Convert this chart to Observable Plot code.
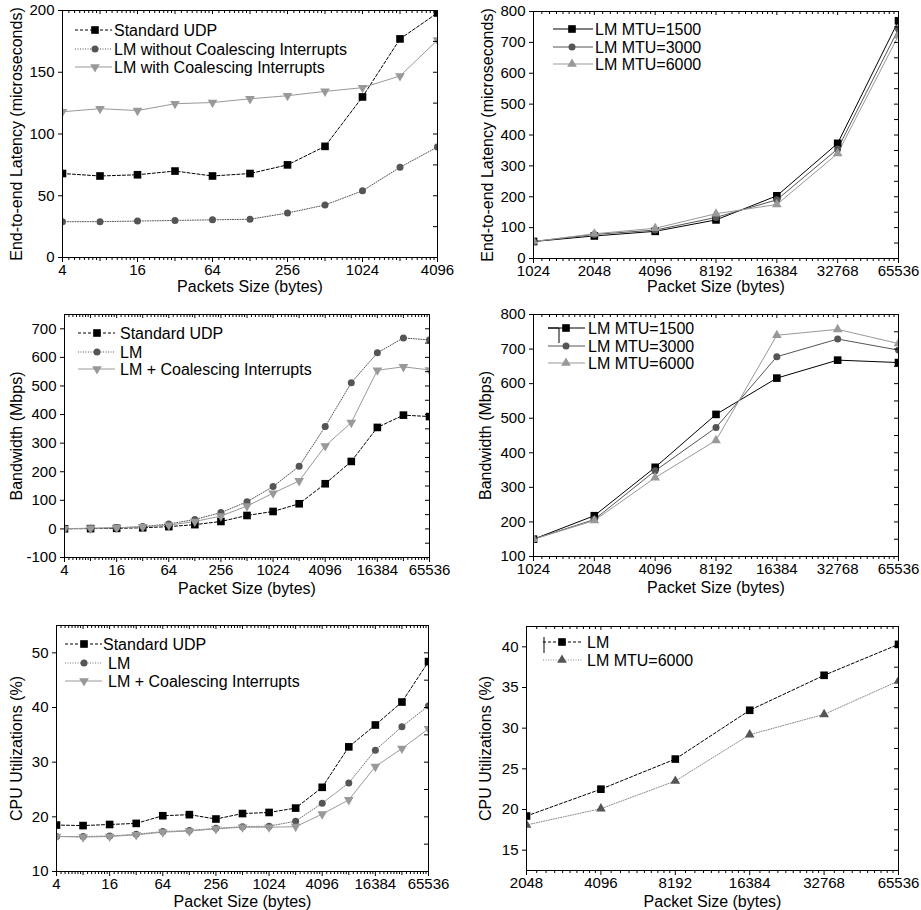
<!DOCTYPE html>
<html><head><meta charset="utf-8">
<script src="https://cdn.jsdelivr.net/npm/d3@7"></script>
<script src="https://cdn.jsdelivr.net/npm/@observablehq/plot@0.6"></script>
<style>
body{margin:0;background:#fff;}
#wrap{position:relative;width:921px;height:910px;background:#fff;font-family:"Liberation Sans",Arial,Helvetica,sans-serif;}
#wrap > svg{position:absolute;overflow:visible;}
</style></head><body><div id="wrap"></div>
<script>
// ---------------- DATA ----------------
// Panel 1: latency vs packet size (small)
const sizesLatency = [4, 8, 16, 32, 64, 128, 256, 512, 1024, 2048, 4096];
const latencyUDP = [68, 66, 67, 70, 66, 68, 75, 90, 130, 177, 198];
const latencyLM = [29, 29, 29.5, 30, 30.5, 31, 36, 42.5, 54, 73, 89.5];
const latencyLMCI = [118, 120.5, 119, 124.5, 125.5, 128.5, 131, 134.5, 137.5, 147, 176];
const latencyTicks = [4, 16, 64, 256, 1024, 4096];

// Panel 2: latency vs packet size for MTUs
const sizesMTU = [1024, 2048, 4096, 8192, 16384, 32768, 65536];
const latencyMTU1500 = [55, 73, 88, 125, 203, 373, 770];
const latencyMTU3000 = [55, 78, 92, 133, 190, 355, 743];
const latencyMTU6000 = [55, 80, 98, 145, 175, 340, 722];
const mtuTicks = [1024, 2048, 4096, 8192, 16384, 32768, 65536];

// Panel 3: bandwidth vs packet size
const sizesFull = [4, 8, 16, 32, 64, 128, 256, 512, 1024, 2048, 4096, 8192, 16384, 32768, 65536];
const bandwidthUDP = [0.5, 1, 2, 4, 8, 15, 26, 47, 61, 88, 158, 236, 355, 398, 393];
const bandwidthLM = [1, 2, 4, 8, 17, 33, 57, 95, 148, 219, 358, 511, 616, 668, 661];
const bandwidthLMCI = [1, 2, 4, 7, 13, 26, 45, 80, 125, 168, 290, 372, 555, 567, 556];
const fullTicks = [4, 16, 64, 256, 1024, 4096, 16384, 65536];

// Panel 4: bandwidth for MTUs
const bandwidthMTU1500 = [150, 218, 358, 511, 616, 668, 661];
const bandwidthMTU3000 = [150, 207, 348, 473, 678, 729, 697];
const bandwidthMTU6000 = [150, 204, 328, 436, 740, 757, 716];

// Panel 5: CPU utilization
const cpuUDP = [18.5, 18.4, 18.6, 18.8, 20.2, 20.4, 19.6, 20.6, 20.8, 21.6, 25.4, 32.8, 36.8, 41, 48.4];
const cpuLM = [16.4, 16.4, 16.5, 16.8, 17.3, 17.5, 17.9, 18.2, 18.3, 19.2, 22.5, 26.2, 32.2, 36.5, 40.3];
const cpuLMCI = [16.4, 16.3, 16.4, 16.7, 17.2, 17.4, 17.8, 18.1, 18.1, 18.2, 20.5, 23.1, 29.2, 32.5, 36.1];

// Panel 6: CPU utilization, large packets
const sizesLarge = [2048, 4096, 8192, 16384, 32768, 65536];
const cpuLargeLM = [19.2, 22.5, 26.2, 32.2, 36.5, 40.3];
const cpuLargeMTU6000 = [18.1, 20.1, 23.5, 29.2, 31.7, 35.8];
const largeTicks = [2048, 4096, 8192, 16384, 32768, 65536];

// ---------------- STYLE ----------------
const FONT = '"Liberation Sans", Arial, Helvetica, sans-serif';
const triangleDown = {
  draw(ctx, size) {
    const s = Math.sqrt(size * 4 / Math.sqrt(3));
    const h = s * Math.sqrt(3) / 2;
    ctx.moveTo(-s / 2, -h / 3);
    ctx.lineTo(s / 2, -h / 3);
    ctx.lineTo(0, 2 * h / 3);
    ctx.closePath();
  }
};
const SQ = {symbol: d3.symbolSquare, r: 4.3};
const CI = {symbol: d3.symbolCircle, r: 3.5};
const TD = {symbol: triangleDown, r: 3.6};
const TU = {symbol: d3.symbolTriangle, r: 3.6};

function minorTicks(lo, hi, div) {
  const out = [];
  for (let a = lo; a < hi; a *= 2) for (let i = 1; i < div; i++) out.push(a + i * a / div);
  return out;
}
function doublings(lo, hi) { const out = []; for (let a = lo; a <= hi; a *= 2) out.push(a); return out; }
function range(lo, hi, step) { const out = []; for (let v = lo; v <= hi + 1e-9; v += step) out.push(+v.toFixed(4)); return out; }

function makePanel(cfg) {
  const [mt, mr, mb, ml] = cfg.margin;
  const innerW = cfg.width - ml - mr;
  const innerH = cfg.height - mt - mb;
  const rows = [];
  cfg.series.forEach(s => s.values.forEach((v, i) => rows.push({x: cfg.sizes[i], y: v, name: s.name})));
  const [x0, x1] = cfg.xDomain;
  const allDoubles = doublings(x0, x1);
  const midDoubles = allDoubles.filter(d => !cfg.xTicks.includes(d));
  const minors = minorTicks(x0, x1, cfg.minorDiv);
  const yMajor = range(cfg.yMajor[0], cfg.yMajor[1], cfg.yMajor[2]);
  const yAll = range(cfg.yMinor[0], cfg.yMinor[1], cfg.yMinor[2]);
  const bottomTick = (data, len) => Plot.ruleX(data, {x: d => d, insetTop: innerH - len, dy: len, stroke: "black", strokeWidth: 1});
  const topTick = (data, len) => Plot.ruleX(data, {x: d => d, insetBottom: innerH - len, stroke: "black", strokeWidth: 1});
  const marks = [];
  cfg.series.forEach(s => {
    const data = rows.filter(r => r.name === s.name);
    marks.push(Plot.line(data, {x: "x", y: "y", stroke: s.stroke, strokeWidth: 1, strokeDasharray: s.dash, clip: true}));
  });
  cfg.series.forEach(s => {
    const data = rows.filter(r => r.name === s.name);
    marks.push(Plot.dot(data, {x: "x", y: "y", symbol: s.mark.symbol, r: s.mark.r, fill: s.fill, stroke: "none", clip: true}));
  });
  marks.push(
    Plot.frame({stroke: "black", strokeWidth: 1}),
    bottomTick(minors, 3),
    bottomTick(midDoubles, 4),
    bottomTick(cfg.xTicks, 5),
    topTick(minors, 3),
    topTick(allDoubles, 4),
    Plot.ruleY(yMajor, {y: d => d, insetRight: innerW - 4, dx: -4, stroke: "black", strokeWidth: 1}),
    Plot.ruleY(yAll, {y: d => d, insetLeft: innerW - 4, stroke: "black", strokeWidth: 1}),
    Plot.text(cfg.xTicks, {x: d => d, text: d => String(d), frameAnchor: "bottom", lineAnchor: "top", dy: 7, fontSize: 15, textAnchor: "middle"}),
    Plot.text(yMajor, {y: d => d, text: d => String(d), frameAnchor: "left", lineAnchor: "middle", dx: -8, fontSize: 15, textAnchor: "end"}),
    Plot.text([cfg.xLabel], {text: d => d, frameAnchor: "bottom", lineAnchor: "middle", textAnchor: "middle", dy: cfg.xLabelDy, fontSize: 16}),
    Plot.text([cfg.yLabel], {text: d => d, frameAnchor: "left", lineAnchor: "middle", textAnchor: "middle", dx: cfg.yLabelDx, rotate: -90, fontSize: 16})
  );
  const svg = Plot.plot({
    width: cfg.width, height: cfg.height,
    marginLeft: ml, marginTop: mt, marginRight: mr, marginBottom: mb,
    style: {fontFamily: FONT, background: "white", color: "black", overflow: "visible"},
    x: {type: "log", base: 2, domain: cfg.xDomain, label: null, axis: null},
    y: {domain: cfg.yDomain, label: null, axis: null},
    marks
  });
  svg.style.left = cfg.left + "px";
  svg.style.top = cfg.top + "px";
  // legend
  const L = cfg.legend;
  const g = d3.select(svg).append("g");
  if (L.extra) {
    g.append("path").attr("d", L.extra.d).attr("fill", "none").attr("stroke", L.extra.stroke).attr("stroke-width", 1);
  }
  cfg.series.forEach((s, i) => {
    const y = L.rows[i];
    g.append("line").attr("x1", L.x1).attr("x2", L.x2).attr("y1", y).attr("y2", y)
      .attr("stroke", s.stroke).attr("stroke-width", 1).attr("stroke-dasharray", s.dash || null);
    g.append("path").attr("transform", `translate(${L.mx},${y})`)
      .attr("d", d3.symbol(s.mark.symbol, Math.PI * s.mark.r * s.mark.r)()).attr("fill", s.fill);
    const tx = Array.isArray(L.tx) ? L.tx[i] : L.tx;
    g.append("text").attr("x", tx).attr("y", y).attr("dy", "0.35em").attr("text-anchor", "start")
      .attr("font-size", 16).attr("font-family", FONT).attr("fill", "black").text(s.name);
  });
  document.getElementById("wrap").appendChild(svg);
}

// Panel 1
makePanel({
  left: 0, top: 0, width: 460, height: 300, margin: [10, 23, 43, 62],
  xDomain: [4, 4096], xTicks: latencyTicks, minorDiv: 8,
  yDomain: [0, 200], yMajor: [0, 200, 50], yMinor: [0, 200, 25],
  sizes: sizesLatency,
  xLabel: "Packets Size (bytes)", xLabelDy: 29,
  yLabel: "End-to-end Latency (microseconds)", yLabelDx: -46,
  series: [
    {name: "Standard UDP", values: latencyUDP, stroke: "#000", dash: "3,2", fill: "#000", mark: SQ},
    {name: "LM without Coalescing Interrupts", values: latencyLM, stroke: "#555", dash: "1,1.5", fill: "#555", mark: CI},
    {name: "LM with Coalescing Interrupts", values: latencyLMCI, stroke: "#999", dash: null, fill: "#999", mark: TD}
  ],
  legend: {x1: 75, x2: 112, mx: 95, tx: 114, rows: [30, 49, 67]}
});

// Panel 2
makePanel({
  left: 460, top: 0, width: 461, height: 300, margin: [11, 23, 42, 73],
  xDomain: [1024, 65536], xTicks: mtuTicks, minorDiv: 10,
  yDomain: [0, 800], yMajor: [0, 800, 100], yMinor: [0, 800, 50],
  sizes: sizesMTU,
  xLabel: "Packet Size (bytes)", xLabelDy: 28,
  yLabel: "End-to-end Latency (microseconds)", yLabelDx: -46,
  series: [
    {name: "LM MTU=1500", values: latencyMTU1500, stroke: "#000", dash: null, fill: "#000", mark: SQ},
    {name: "LM MTU=3000", values: latencyMTU3000, stroke: "#555", dash: null, fill: "#555", mark: CI},
    {name: "LM MTU=6000", values: latencyMTU6000, stroke: "#999", dash: null, fill: "#999", mark: TU}
  ],
  legend: {x1: 93, x2: 133, mx: 112, tx: 135, rows: [29, 47, 64]}
});

// Panel 3
makePanel({
  left: 0, top: 300, width: 460, height: 310, margin: [14, 31, 53, 64],
  xDomain: [4, 65536], xTicks: fullTicks, minorDiv: 8,
  yDomain: [-100, 750], yMajor: [-100, 700, 100], yMinor: [-100, 750, 50],
  sizes: sizesFull,
  xLabel: "Packet Size (bytes)", xLabelDy: 31,
  yLabel: "Bandwidth (Mbps)", yLabelDx: -48,
  series: [
    {name: "Standard UDP", values: bandwidthUDP, stroke: "#000", dash: "3,2", fill: "#000", mark: SQ},
    {name: "LM", values: bandwidthLM, stroke: "#555", dash: "1,1.5", fill: "#555", mark: CI},
    {name: "LM + Coalescing Interrupts", values: bandwidthLMCI, stroke: "#999", dash: null, fill: "#999", mark: TD}
  ],
  legend: {x1: 78, x2: 115, mx: 97, tx: 120, rows: [33, 52, 69]}
});

// Panel 4
makePanel({
  left: 460, top: 300, width: 461, height: 310, margin: [14, 23, 54, 73],
  xDomain: [1024, 65536], xTicks: mtuTicks, minorDiv: 10,
  yDomain: [100, 800], yMajor: [100, 800, 100], yMinor: [100, 800, 50],
  sizes: sizesMTU,
  xLabel: "Packet Size (bytes)", xLabelDy: 31,
  yLabel: "Bandwidth (Mbps)", yLabelDx: -48,
  series: [
    {name: "LM MTU=1500", values: bandwidthMTU1500, stroke: "#000", dash: null, fill: "#000", mark: SQ},
    {name: "LM MTU=3000", values: bandwidthMTU3000, stroke: "#555", dash: null, fill: "#555", mark: CI},
    {name: "LM MTU=6000", values: bandwidthMTU6000, stroke: "#999", dash: null, fill: "#999", mark: TU}
  ],
  legend: {x1: 88, x2: 125, mx: 106, tx: 128, rows: [28, 46, 63],
           extra: {d: "M88,28H99V43", stroke: "#000"}}
});

// Panel 5
makePanel({
  left: 0, top: 600, width: 460, height: 310, margin: [25, 32, 39, 56],
  xDomain: [4, 65536], xTicks: fullTicks, minorDiv: 8,
  yDomain: [10, 55], yMajor: [10, 50, 10], yMinor: [10, 55, 5],
  sizes: sizesFull,
  xLabel: "Packet Size (bytes)", xLabelDy: 30,
  yLabel: "CPU Utilizations (%)", yLabelDx: -40,
  series: [
    {name: "Standard UDP", values: cpuUDP, stroke: "#000", dash: "3,2", fill: "#000", mark: SQ},
    {name: "LM", values: cpuLM, stroke: "#777", dash: "1,1.5", fill: "#555", mark: CI},
    {name: "LM + Coalescing Interrupts", values: cpuLMCI, stroke: "#999", dash: null, fill: "#999", mark: TD}
  ],
  legend: {x1: 65, x2: 102, mx: 84, tx: [103, 108, 108], rows: [44, 63, 81]}
});

// Panel 6
makePanel({
  left: 460, top: 600, width: 461, height: 310, margin: [26, 23, 40, 66],
  xDomain: [2048, 65536], xTicks: largeTicks, minorDiv: 10,
  yDomain: [12.5, 42.5], yMajor: [15, 40, 5], yMinor: [12.5, 42.5, 2.5],
  sizes: sizesLarge,
  xLabel: "Packet Size (bytes)", xLabelDy: 31,
  yLabel: "CPU Utilizations (%)", yLabelDx: -41,
  series: [
    {name: "LM", values: cpuLargeLM, stroke: "#000", dash: "3,2", fill: "#000", mark: SQ},
    {name: "LM MTU=6000", values: cpuLargeMTU6000, stroke: "#888", dash: "1,1.5", fill: "#555", mark: TU}
  ],
  legend: {x1: 83, x2: 123, mx: 102, tx: 127, rows: [42, 60],
           extra: {d: "M84,37V53", stroke: "#000"}}
});
</script>
</body></html>
